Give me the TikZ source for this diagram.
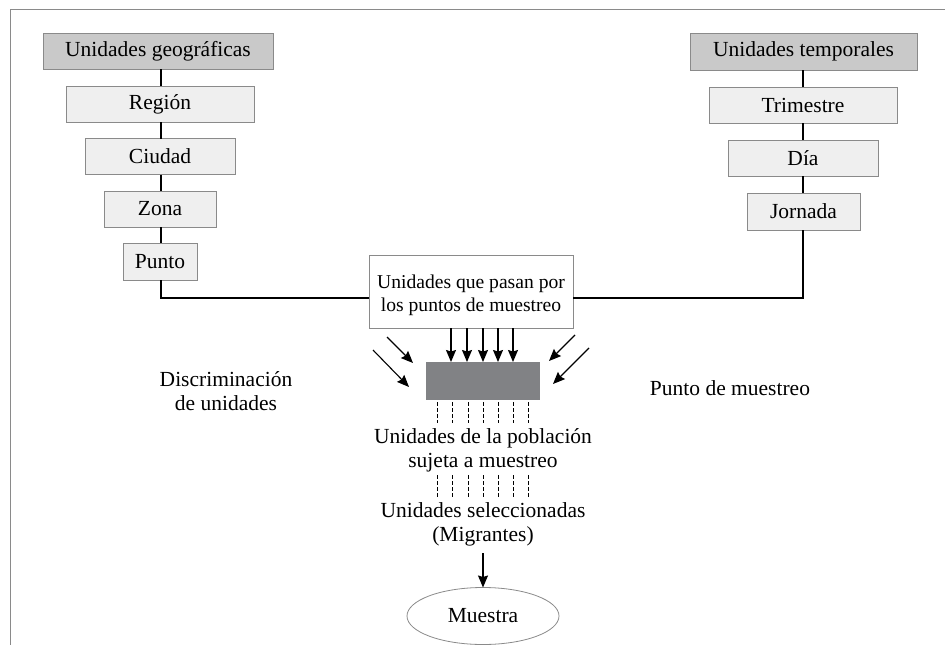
\documentclass[tikz,border=0pt]{standalone}
\usepackage{fontspec}
\setmainfont{Liberation Serif}
\usetikzlibrary{arrows.meta,shapes.geometric}
\definecolor{hdrfill}{HTML}{C9C9C9}
\definecolor{subfill}{HTML}{EFEFEF}
\definecolor{bordergray}{HTML}{8A8A8A}
\definecolor{filtgray}{HTML}{818285}
\begin{document}
\begin{tikzpicture}[x=1pt,y=-1pt,
  every node/.style={font=\fontsize{21.5pt}{24pt}\selectfont, inner sep=0pt, outer sep=0pt},
  hdr/.style={draw=bordergray, line width=0.8pt, fill=hdrfill, minimum height=36pt},
  sub/.style={draw=bordergray, line width=0.8pt, fill=subfill, minimum height=36pt},
  conn/.style={line width=1.5pt, black},
  arr/.style={line width=1.1pt, -{Stealth[length=12pt,width=10pt,inset=1.5pt]}},
  dashln/.style={line width=0.8pt, dash pattern=on 3.5pt off 2.5pt},
  txt/.style={align=center}
]
\useasboundingbox (0,0) rectangle (945,645);
\draw[bordergray, line width=1pt] (10,645) -- (10,9.5) -- (945,9.5);

% left hierarchy
\node[hdr, minimum width=230pt] (geo) at (158,51) {Unidades geográficas};
\node[sub, minimum width=188pt] (reg) at (160,104) {Región};
\node[sub, minimum width=150pt] (ciu) at (160,156.5) {Ciudad};
\node[sub, minimum width=112pt] (zon) at (160,209) {Zona};
\node[sub, minimum width=74pt, minimum height=37pt] (pun) at (160,261.5) {Punto};

% right hierarchy
\node[hdr, minimum width=227pt, minimum height=37pt] (tem) at (803.5,51.5) {Unidades temporales};
\node[sub, minimum width=188pt] (tri) at (803,105) {Trimestre};
\node[sub, minimum width=150pt] (dia) at (803,158) {Día};
\node[sub, minimum width=113pt, minimum height=37pt] (jor) at (803.5,211.5) {Jornada};

% central box
\node[draw=bordergray, line width=0.8pt, fill=white, minimum width=204pt, minimum height=73pt] (pas) at (471,291.5) {};
\node[txt, font=\fontsize{19.6pt}{23pt}\selectfont] (pastxt) at (471,295) {Unidades que pasan por\\los puntos de muestreo};

% filter
\node[fill=filtgray, minimum width=114pt, minimum height=38pt] (fil) at (483,381) {};

% connectors
\foreach \a/\b in {geo/reg,reg/ciu,ciu/zon,zon/pun}
  \draw[conn] (\a.south -| 161,0) -- (\b.north -| 161,0);
\foreach \a/\b in {tem/tri,tri/dia,dia/jor}
  \draw[conn] (\a.south -| 803,0) -- (\b.north -| 803,0);
\draw[conn] (pun.south -| 161,0) |- ([yshift=-6.5pt]pas.west);
\draw[conn] (jor.south -| 803,0) |- ([yshift=-6.5pt]pas.east);

% vertical arrows into filter
\foreach \x in {451,467,483,498,513}
  \draw[arr] (pas.south -| \x,0) -- (fil.north -| \x,0);

% diagonal arrows
\coordinate (l1s) at (387,337);
\coordinate (l2s) at (373,350);
\coordinate (r1s) at (575,335);
\coordinate (r2s) at (589,348);
\draw[arr] (l1s) -- (413,363);
\draw[arr] (l2s) -- (409,387);
\draw[arr] (r1s) -- (549,361);
\draw[arr] (r2s) -- (553,384);

% labels
\node[txt] (dis) at (226,391) {Discriminación\\de unidades};
\node (pdm) at (730,388) {Punto de muestreo};

\node[txt] (pob) at (483,450) {Unidades de la población\\sujeta a muestreo};
\foreach \x in {437,452,468,483,498,513,528}
  \draw[dashln] (fil.south -| \x,0) ++(0,2) -- (\x,423);
\foreach \x in {437,452,468,483,498,513,528}
  \draw[dashln] (\x,475) -- (\x,497);

\node[txt] (sel) at (483,524) {Unidades seleccionadas\\(Migrantes)};
\node[draw=bordergray, line width=0.8pt, ellipse, minimum width=152pt, minimum height=57pt] (mue) at (483,616) {Muestra};
\draw[arr] (483,553) -- (mue.north);
\end{tikzpicture}
\end{document}
